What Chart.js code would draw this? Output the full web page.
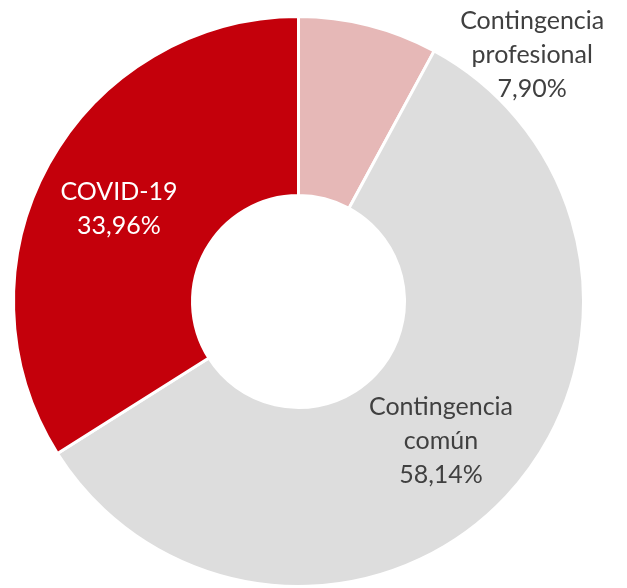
<!DOCTYPE html>
<html>
<head>
<meta charset="utf-8">
<script src="https://cdn.jsdelivr.net/npm/chart.js@4"></script>
<style>
  html, body { margin: 0; padding: 0; background: #fff; }
  #wrap { width: 627px; height: 588px; position: relative; }
</style>
</head>
<body>
<div id="wrap"><canvas id="chartArea"></canvas></div>
<script>
// ----------------------------
// datos
// ----------------------------
const categories = ['Contingencia profesional', 'Contingencia común', 'COVID-19'];
const shares = [7.90, 58.14, 33.96];
const labelLines = [
  ['Contingencia', 'profesional'],
  ['Contingencia', 'común'],
  ['COVID-19']
];

// ----------------------------
// estilo
// ----------------------------
const sliceColors = ['#E6B8B7', '#DDDDDD', '#C4000B'];
const textColors = ['#404040', '#404040', '#FFFFFF'];
// posición de cada etiqueta, relativa al centro y al radio exterior
const labelOffsets = [[0.82, -0.865], [0.50, 0.49], [-0.63, -0.325]];
const lineGap = 34;

const fmt = v => v.toFixed(2).replace('.', ',') + '%';

const labelPlugin = {
  id: 'sliceLabels',
  afterDatasetsDraw(chart) {
    const ctx = chart.ctx;
    const meta = chart.getDatasetMeta(0);
    ctx.save();
    ctx.font = '25px Lato, "Open Sans", sans-serif';
    ctx.textAlign = 'center';
    ctx.textBaseline = 'middle';
    meta.data.forEach((arc, i) => {
      const R = arc.outerRadius;
      const cx = arc.x + labelOffsets[i][0] * R;
      const cy = arc.y + labelOffsets[i][1] * R;
      const lines = labelLines[i].concat([fmt(shares[i])]);
      const y0 = cy - (lines.length - 1) * lineGap / 2;
      ctx.fillStyle = textColors[i];
      lines.forEach((t, k) => ctx.fillText(t, cx, y0 + k * lineGap));
    });
    ctx.restore();
  }
};

new Chart(document.getElementById('chartArea'), {
  type: 'doughnut',
  data: {
    labels: categories,
    datasets: [{
      data: shares,
      backgroundColor: sliceColors,
      borderColor: '#FFFFFF',
      borderWidth: 3
    }]
  },
  options: {
    responsive: true,
    maintainAspectRatio: false,
    animation: false,
    cutout: 106,
    layout: { padding: { top: 15, bottom: 0, left: 0, right: 30 } },
    plugins: {
      legend: { display: false },
      tooltip: { enabled: false }
    }
  },
  plugins: [labelPlugin]
});
</script>
</body>
</html>
